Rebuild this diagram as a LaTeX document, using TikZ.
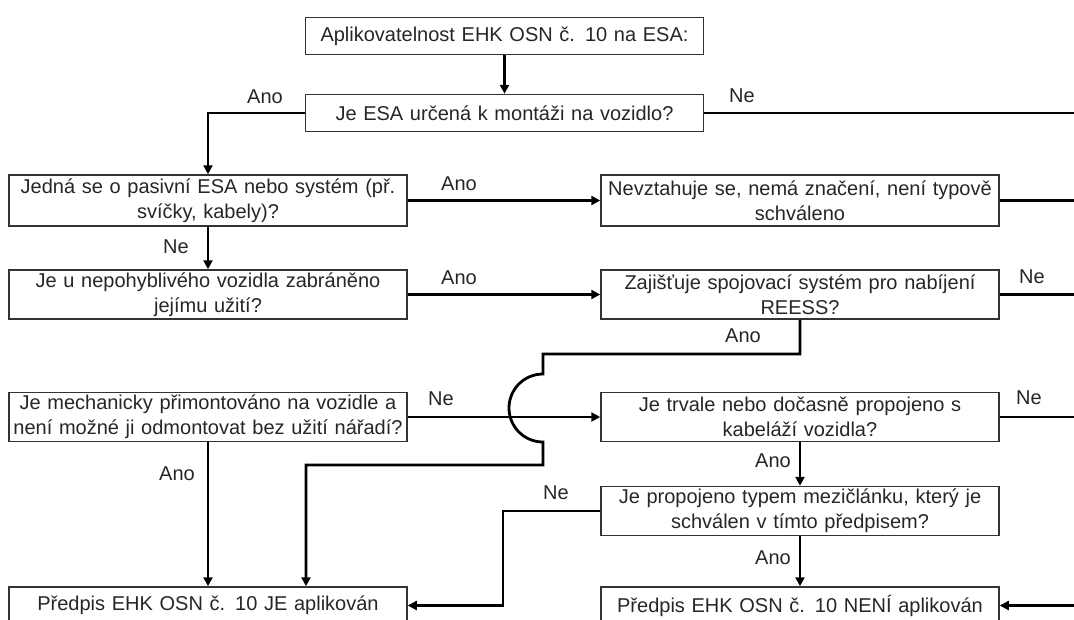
\documentclass[tikz,border=0pt]{standalone}
\usepackage{fontspec}
\setmainfont{Liberation Sans}
\usepackage{tikz}
\usetikzlibrary{positioning, arrows.meta}

\begin{document}
\begin{tikzpicture}[x=1pt, y=-1pt,
    box/.style={draw=black!80, line width=1.5pt, text=black!85, text width=390pt, align=center,
                inner xsep=4pt, inner ysep=1pt, minimum height=49pt,
                font=\fontsize{20}{25}\selectfont},
    vedeni/.style={line width=2.8pt, black},
    sipka/.style={vedeni, -{Triangle[length=9pt, width=9pt]}},
    popis/.style={text=black!85, font=\fontsize{20}{24}\selectfont}]
        % Rozměry obrázku
        \useasboundingbox (0,0) rectangle (1074,619);
        \clip (0,0) rectangle (1074,619);
        % Rámečky
        \node[box, minimum height=37pt] (top) at (504.5,36) {Aplikovatelnost EHK OSN č. 10 na ESA:};
        \node[box, minimum height=37pt] (montaz) at (504.5,113) {Je ESA určená k montáži na vozidlo?};
        \node[box, minimum height=51pt] (pasivni) at (208,200.5) {Jedná se o pasivní ESA nebo systém (př.\\ svíčky, kabely)?};
        \node[box, minimum height=51pt] (nevztahuje) at (800,200.5) {Nevztahuje se, nemá značení, není typově\\ schváleno};
        \node[box] (nepohyb) at (208,294.5) {Je u nepohyblivého vozidla zabráněno\\ jejímu užití?};
        \node[box] (reess) at (800,294.5) {Zajišťuje spojovací systém pro nabíjení\\ REESS?};
        \node[box] (mechan) at (208,417) {Je mechanicky přimontováno na vozidle a\\ není možné ji odmontovat bez užití nářadí?};
        \node[box] (kabelaz) at (800,417) {Je trvale nebo dočasně propojeno s\\ kabeláží vozidla?};
        \node[box] (mezicl) at (800,511) {Je propojeno typem mezičlánku, který je\\ schválen v tímto předpisem?};
        \node[box, minimum height=37pt] (jeapl) at (208,605.5) {Předpis EHK OSN č. 10 JE aplikován};
        \node[box, minimum height=37pt] (neniapl) at (800,605.5) {Předpis EHK OSN č. 10 NENÍ aplikován};
        % Volné konce vpravo
        \coordinate (okraj1) at (1080,113);
        \coordinate (okraj2) at (1080,200.5);
        \coordinate (okraj3) at (1080,294.5);
        \coordinate (okraj4) at (1080,417);
        \coordinate (okraj5) at (1080,605.5);
        % Body lomených spojnic
        \coordinate (zlom1) at (543,354);
        \coordinate (zlom2) at (306,465);
        \coordinate (zlom3) at (503,560);
        % Spojnice
        \draw[sipka] (top) -- (top |- montaz.north);
        \draw[sipka] (montaz.west) -| (pasivni.north);
        \draw[vedeni] (montaz.east) -- (okraj1);
        \draw[sipka] (pasivni.east) -- (nevztahuje.west);
        \draw[vedeni] (nevztahuje.east) -- (okraj2);
        \draw[sipka] (pasivni.south) -- (nepohyb.north);
        \draw[sipka] (nepohyb.east) -- (reess.west);
        \draw[vedeni] (reess.east) -- (okraj3);
        \draw[sipka] (reess.south) |- (zlom1) -- ++(0,20)
            arc[start angle=90, end angle=270, radius=34pt] -- (zlom1 |- zlom2) -- (zlom2) -- (zlom2 |- jeapl.north);
        \draw[sipka] (mechan.east) -- (kabelaz.west);
        \draw[vedeni] (kabelaz.east) -- (okraj4);
        \draw[sipka] (kabelaz.south) -- (mezicl.north);
        \draw[sipka] (mezicl.west) -| (zlom3) |- (jeapl.east);
        \draw[sipka] (mezicl.south) -- (neniapl.north);
        \draw[sipka] (okraj5) -- (neniapl.east);
        \draw[sipka] (mechan.south) -- (jeapl.north);
        % Popisky
        \node[popis] (p1) at (265,97) {Ano};
        \node[popis] (p2) at (742,96) {Ne};
        \node[popis] (p3) at (459,184) {Ano};
        \node[popis] (p4) at (176,247) {Ne};
        \node[popis] (p5) at (459,278) {Ano};
        \node[popis] (p6) at (1032,277) {Ne};
        \node[popis] (p7) at (743,336) {Ano};
        \node[popis] (p8) at (441,399) {Ne};
        \node[popis] (p9) at (1029,398) {Ne};
        \node[popis] (p10) at (773,461) {Ano};
        \node[popis] (p11) at (556,493) {Ne};
        \node[popis] (p12) at (177,474) {Ano};
        \node[popis] (p13) at (773,558) {Ano};
\end{tikzpicture}
\end{document}
